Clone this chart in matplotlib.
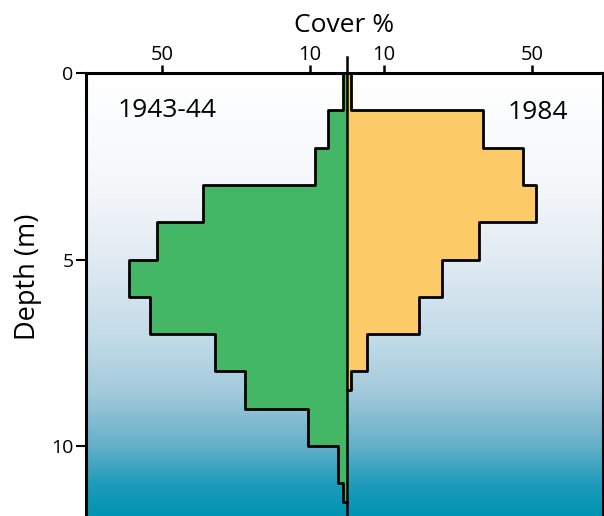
import numpy as np
import matplotlib.pyplot as plt
from matplotlib.colors import LinearSegmentedColormap

plt.rcParams['font.family'] = ['Open Sans', 'DejaVu Sans']

# Cobertura (%) por faixa de profundidade de 1 m
prof_1943 = [0, 1, 2, 3, 4, 5, 6, 7, 8, 9, 10, 11, 11.5]
cob_1943 = [1.0, 5.0, 8.6, 38.8, 51.3, 58.9, 53.2, 35.7, 27.6, 10.5, 2.4, 1.0]

prof_1984 = [0, 1, 2, 3, 4, 5, 6, 7, 8, 8.5]
cob_1984 = [1.2, 36.8, 47.6, 51.1, 35.7, 25.7, 19.5, 5.4, 1.1]

xticks = [-50, -10, 10, 50]
xticklabels = ['50', '10', '10', '50']
yticks = [0, 5, 10]

verde = '#43B765'
laranja = '#FDCA68'

fig = plt.figure(figsize=(6.04, 5.16), dpi=100)
ax = fig.add_axes([86 / 604, 0, 517 / 604, 443 / 516])
ymax = 443 / 37.3
ax.set_xlim(-70.5, 69.2)
ax.set_ylim(ymax, 0)

# Fundo em degradê (água)
cores = [(0.0, (1, 1, 1)), (0.25, (0.96, 0.97, 0.98)), (0.42, (0.88, 0.92, 0.95)),
         (0.6, (0.76, 0.86, 0.91)), (0.72, (0.64, 0.79, 0.86)), (0.84, (0.40, 0.69, 0.79)),
         (0.93, (0.12, 0.61, 0.73)), (1.0, (0.0, 0.58, 0.70))]
cmap = LinearSegmentedColormap.from_list('agua', cores)
grad = np.linspace(0, 1, 256).reshape(-1, 1)
ax.imshow(grad, cmap=cmap, aspect='auto', extent=[-70.5, 69.2, ymax, 0], zorder=0)


def degraus(bordas, valores, sinal):
    y = np.repeat(bordas, 2)[1:-1]
    x = sinal * np.repeat(valores, 2)
    return x, y


x1, y1 = degraus(prof_1943, cob_1943, -1)
ax.fill_betweenx(y1, x1, 0, color=verde, zorder=2, lw=0)
ax.plot(np.r_[0, x1, 0], np.r_[y1[0], y1, y1[-1]], color='black', lw=2, zorder=3)

x2, y2 = degraus(prof_1984, cob_1984, 1)
ax.fill_betweenx(y2, 0, x2, color=laranja, zorder=2, lw=0)
ax.plot(np.r_[0, x2, 0], np.r_[y2[0], y2, y2[-1]], color='black', lw=2, zorder=3)

# Linha central
ax.plot([0, 0], [-0.43, ymax], color='black', lw=1.8, zorder=4, clip_on=False)

ax.xaxis.tick_top()
ax.xaxis.set_label_position('top')
ax.set_xticks(xticks)
ax.set_xticklabels(xticklabels)
ax.set_yticks(yticks)
ax.tick_params(axis='x', direction='out', length=6, width=1.8, labelsize=14.5, pad=0)
ax.tick_params(axis='y', direction='out', length=7, width=1.5, labelsize=14, pad=2)
ax.set_xlabel('Cover %', fontsize=19, labelpad=9)
ax.set_ylabel('Depth (m)', fontsize=19.5)
ax.yaxis.set_label_coords(-0.085, 0.54)

for lado in ['left', 'top']:
    ax.spines[lado].set_linewidth(2.2)
ax.spines['right'].set_linewidth(1.5)
ax.spines['bottom'].set_visible(False)

ax.text(-48.5, 1.0, '1943-44', fontsize=19, ha='center', va='center', zorder=5)
ax.text(51.5, 1.05, '1984', fontsize=19, ha='center', va='center', zorder=5)

fig.savefig('out.png', dpi=100)
